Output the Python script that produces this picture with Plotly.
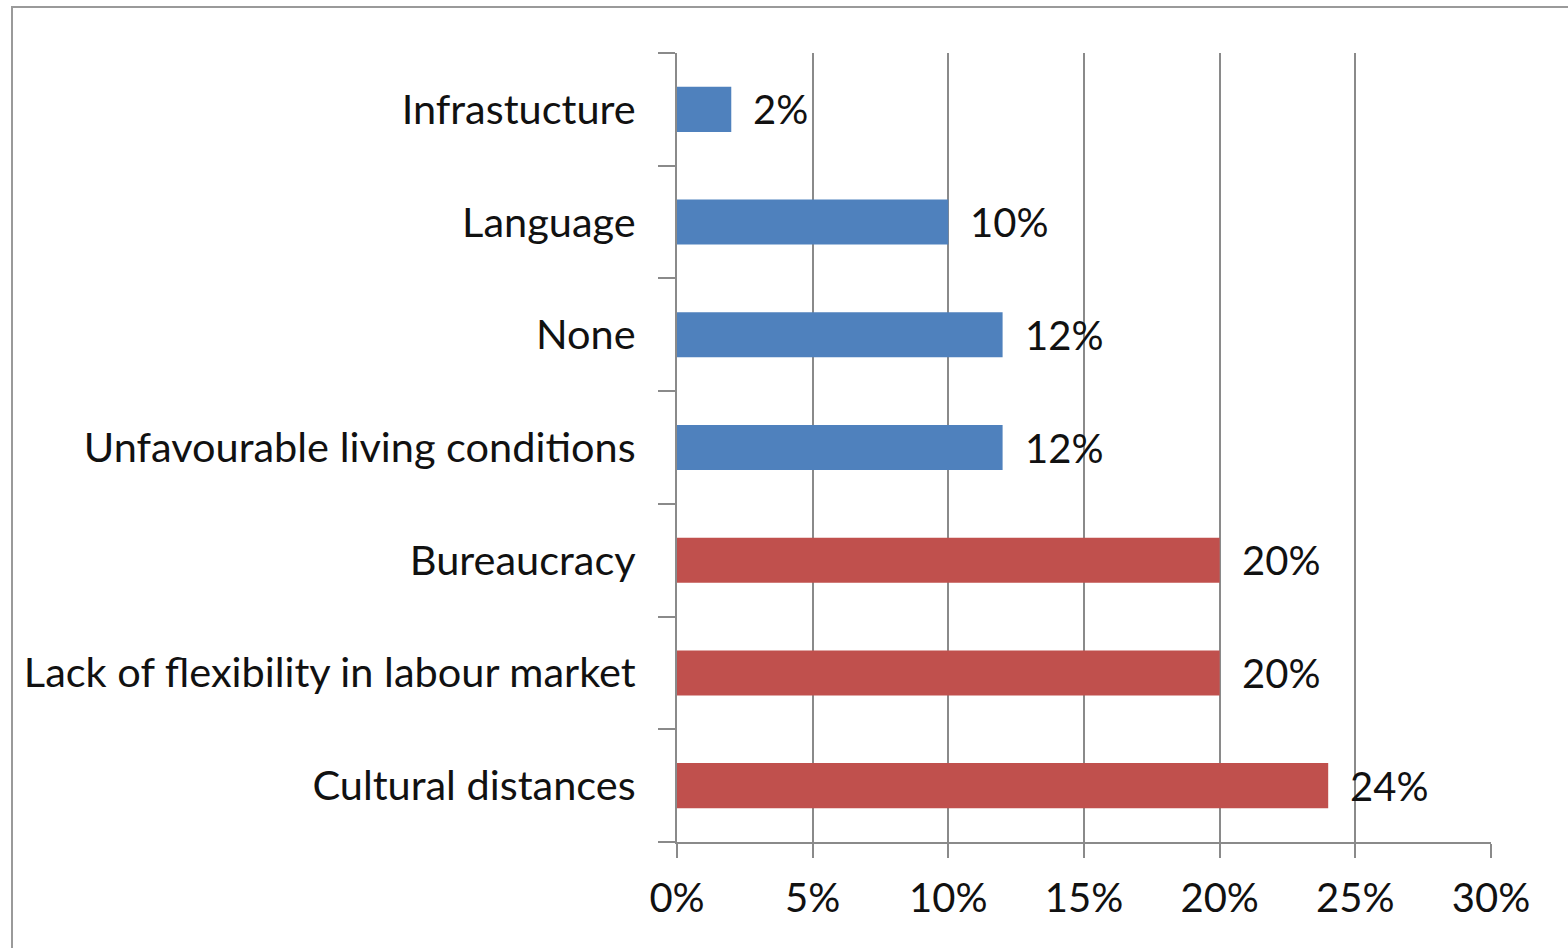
import plotly.graph_objects as go

categories = [
    "Cultural distances",
    "Lack of flexibility in labour market",
    "Bureaucracy",
    "Unfavourable living conditions",
    "None",
    "Language",
    "Infrastucture",
]
values = [24, 20, 20, 12, 12, 10, 2]
bar_colors = ["#C0504D", "#C0504D", "#C0504D", "#4F81BD", "#4F81BD", "#4F81BD", "#4F81BD"]
value_labels = [f"{v}%" for v in values]
x_tick_vals = [0, 5, 10, 15, 20, 25, 30]
x_tick_text = [f"{v}%" for v in x_tick_vals]

W, H = 1568, 948
L, R, T, B = 677, 77, 53, 106
FONT = "Lato"
FS = 40
AX = "#8a8a8a"

fig = go.Figure()
fig.add_trace(go.Bar(
    y=categories, x=values, orientation="h",
    marker=dict(color=bar_colors, line=dict(width=0)),
    showlegend=False, hoverinfo="skip",
))

for c, v, t in zip(categories, values, value_labels):
    fig.add_annotation(x=v, y=c, text=t, showarrow=False, xanchor="left",
                       xshift=20, font=dict(family=FONT, size=FS, color="#111"))

pw = W - L - R
ph = H - T - B
fx = lambda px: (px - L) / pw
fy = lambda py: (H - B - py) / ph

fig.add_shape(type="rect", xref="paper", yref="paper",
              x0=fx(12), x1=fx(W + 20), y0=fy(H + 20), y1=fy(7),
              line=dict(color="#9a9a9a", width=2), fillcolor="rgba(0,0,0,0)", layer="below")

fig.update_layout(
    width=W, height=H,
    margin=dict(l=L, r=R, t=T, b=B, pad=0),
    paper_bgcolor="white", plot_bgcolor="white",
    bargap=0.6,
    font=dict(family=FONT, size=FS, color="#111"),
    xaxis=dict(
        range=[0, 30], tickvals=x_tick_vals, ticktext=x_tick_text,
        showgrid=True, gridcolor=AX, gridwidth=2,
        showline=True, linecolor=AX, linewidth=2,
        ticks="outside", ticklen=14, tickcolor=AX, tickwidth=2,
        zeroline=False, ticklabelstandoff=6,
        tickfont=dict(family=FONT, size=FS, color="#111"),
    ),
    yaxis=dict(
        type="category", categoryorder="array", categoryarray=categories,
        showgrid=False, showline=True, linecolor=AX, linewidth=2,
        ticks="outside", ticklen=17, tickcolor=AX, tickwidth=2,
        tickson="boundaries", ticklabelstandoff=31,
        tickfont=dict(family=FONT, size=41.5, color="#111"),
    ),
)

fig.write_html("out.html")
